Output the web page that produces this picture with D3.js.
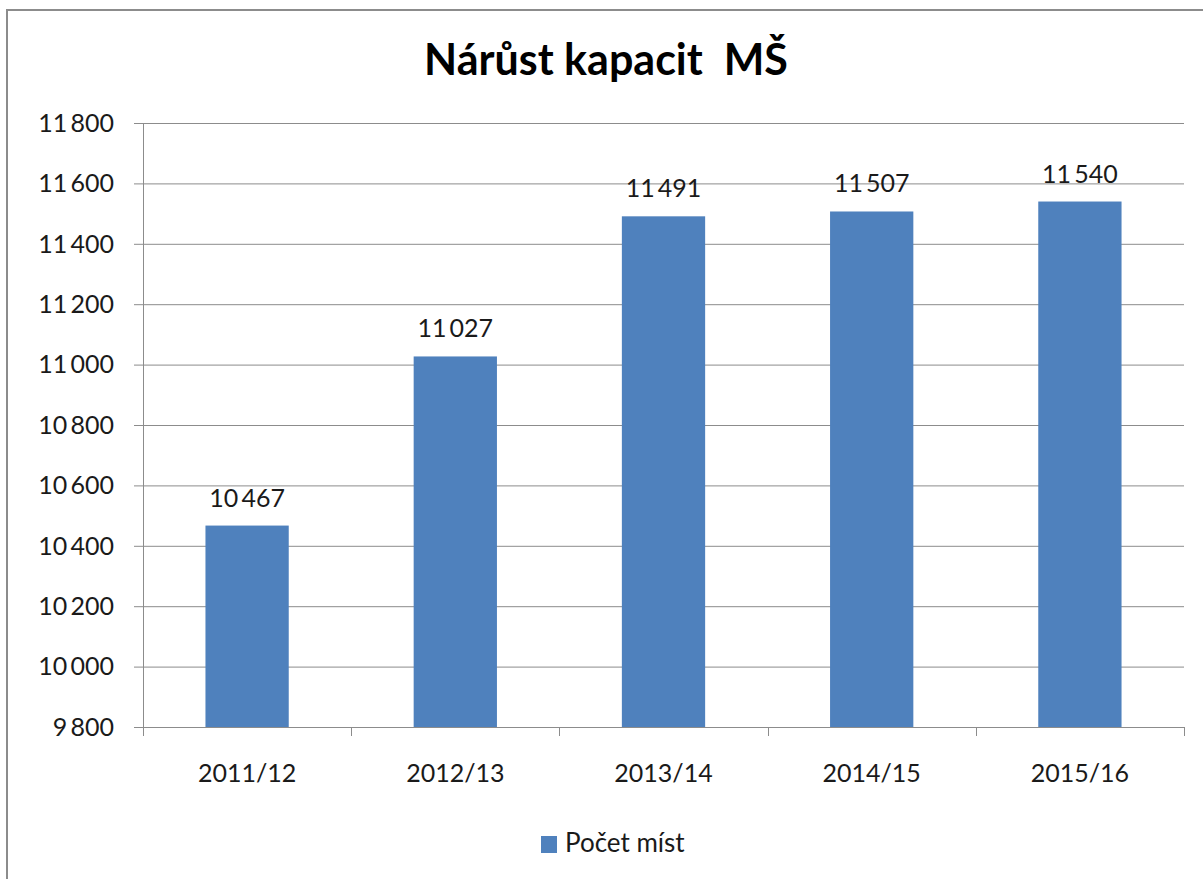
<!DOCTYPE html>
<html>
<head>
<meta charset="utf-8">
<script src="https://cdn.jsdelivr.net/npm/d3@7.9.0/dist/d3.min.js"></script>
<style>
  body { margin: 0; background: #fff; }
  svg { display: block; font-family: Lato, "Open Sans", sans-serif; }
</style>
</head>
<body>
<svg id="chart" width="1203" height="879"></svg>
<script>
const years = ['2011/12', '2012/13', '2013/14', '2014/15', '2015/16'];
const places = [10467, 11027, 11491, 11507, 11540];
const yTicks = [9800, 10000, 10200, 10400, 10600, 10800, 11000, 11200, 11400, 11600, 11800];
const seriesName = 'Počet míst';
const title = 'Nárůst kapacit  MŠ';

const svg = d3.select('#chart');
const margin = { left: 143, right: 19, top: 123, bottom: 152 };
const width = 1203, height = 879;

// thin space as thousands separator, like the original
const fmt = (v) => d3.format(',')(v).replace(',', '\u2009');

// outer frame (runs off the right and bottom edges)
svg.append('rect')
  .attr('x', 7).attr('y', 10)
  .attr('width', 1210).attr('height', 900)
  .attr('fill', 'none')
  .attr('stroke', '#8c8c8c')
  .attr('stroke-width', 2);

let x = d3.scaleBand()
  .domain(years)
  .range([margin.left, width - margin.right])
  .paddingInner(0.6)
  .paddingOuter(0.3);

let y = d3.scaleLinear()
  .domain([9800, 11800])
  .range([height - margin.bottom, margin.top]);

// grid lines
svg.append('g')
  .selectAll('line')
  .data(yTicks)
  .join('line')
  .attr('x1', margin.left - 9)
  .attr('x2', width - margin.right)
  .attr('y1', (d) => y(d) + 0.5)
  .attr('y2', (d) => y(d) + 0.5)
  .attr('stroke', '#8c8c8c')
  .attr('stroke-width', 1);

// y axis line
svg.append('line')
  .attr('x1', margin.left + 0.5).attr('x2', margin.left + 0.5)
  .attr('y1', margin.top).attr('y2', y(9800))
  .attr('stroke', '#8c8c8c');

// y tick labels
svg.append('g')
  .selectAll('text')
  .data(yTicks)
  .join('text')
  .attr('x', margin.left - 29)
  .attr('y', (d) => y(d))
  .attr('dy', '0.35em')
  .attr('text-anchor', 'end')
  .attr('font-size', 25)
  .attr('fill', '#1a1a1a')
  .text((d) => fmt(d));

// x category tick marks
let boundaries = d3.range(years.length + 1).map((i) => margin.left + i * (width - margin.left - margin.right) / years.length);
svg.append('g')
  .selectAll('line')
  .data(boundaries)
  .join('line')
  .attr('x1', (d) => Math.round(d) + 0.5)
  .attr('x2', (d) => Math.round(d) + 0.5)
  .attr('y1', y(9800))
  .attr('y2', y(9800) + 9)
  .attr('stroke', '#8c8c8c');

// bars
svg.append('g')
  .selectAll('rect')
  .data(places)
  .join('rect')
  .attr('x', (d, i) => x(years[i]))
  .attr('y', (d) => y(d))
  .attr('width', x.bandwidth())
  .attr('height', (d) => y(9800) - y(d))
  .attr('fill', '#4f81bd');

// value labels
svg.append('g')
  .selectAll('text')
  .data(places)
  .join('text')
  .attr('x', (d, i) => x(years[i]) + x.bandwidth() / 2)
  .attr('y', (d) => y(d) - 19)
  .attr('text-anchor', 'middle')
  .attr('font-size', 25)
  .attr('fill', '#1a1a1a')
  .text((d) => fmt(d));

// x labels
svg.append('g')
  .selectAll('text')
  .data(years)
  .join('text')
  .attr('x', (d) => x(d) + x.bandwidth() / 2)
  .attr('y', y(9800) + 55)
  .attr('text-anchor', 'middle')
  .attr('font-size', 25)
  .attr('fill', '#1a1a1a')
  .text((d) => d);

// title
svg.append('text')
  .attr('x', 606)
  .attr('y', 75)
  .attr('text-anchor', 'middle')
  .attr('font-size', 43)
  .attr('font-weight', 'bold')
  .attr('fill', '#000')
  .style('white-space', 'pre')
  .text(title);

// legend
let legend = svg.append('g').attr('transform', 'translate(541,836)');
legend.append('rect')
  .attr('width', 16).attr('height', 17)
  .attr('fill', '#4f81bd');
legend.append('text')
  .attr('x', 24).attr('y', 16)
  .attr('font-size', 26)
  .attr('fill', '#1a1a1a')
  .text(seriesName);
</script>
</body>
</html>
